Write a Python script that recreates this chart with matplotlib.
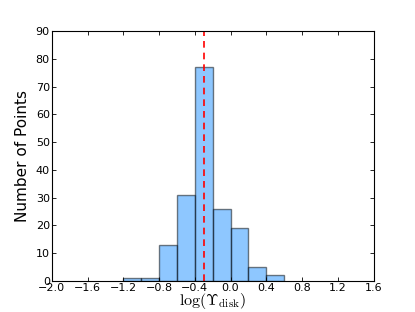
import matplotlib
matplotlib.use("Agg")
import matplotlib.pyplot as plt
import numpy as np

bin_edges = [-1.2, -1.0, -0.8, -0.6, -0.4, -0.2, 0.0, 0.2, 0.4, 0.6]
counts = [1, 1, 13, 31, 77, 26, 19, 5, 2]
median_line = -0.3
xticks = [-2.0, -1.6, -1.2, -0.8, -0.4, 0.0, 0.4, 0.8, 1.2, 1.6]
yticks = [0, 10, 20, 30, 40, 50, 60, 70, 80, 90]

plt.rcParams['mathtext.fontset'] = 'cm'
fig = plt.figure(figsize=(4.15, 3.12), dpi=100)
ax = fig.add_axes([0.125, 0.1, 0.775, 0.8])

centers = [(bin_edges[i] + bin_edges[i + 1]) / 2 for i in range(len(counts))]
ax.hist(centers, bins=bin_edges, weights=counts, facecolor='dodgerblue',
        alpha=0.5, edgecolor='black', linewidth=1.0)
ax.axvline(median_line, color='red', linestyle='--', linewidth=1.2, dashes=(4, 3))

ax.set_xlim(-2.0, 1.6)
ax.set_ylim(0, 90)
ax.set_xticks(xticks)
ax.set_yticks(yticks)
ax.tick_params(direction='in', labelsize=8, length=3, width=0.6, top=True, right=True, pad=1.5)
for s in ax.spines.values():
    s.set_linewidth(0.8)
ax.set_xlabel(r'$\log(\Upsilon_{\rm disk})$', fontsize=11.5, labelpad=-1)
ax.set_ylabel('Number of Points', fontsize=11, labelpad=4)

fig.savefig('out.png', dpi=100)
